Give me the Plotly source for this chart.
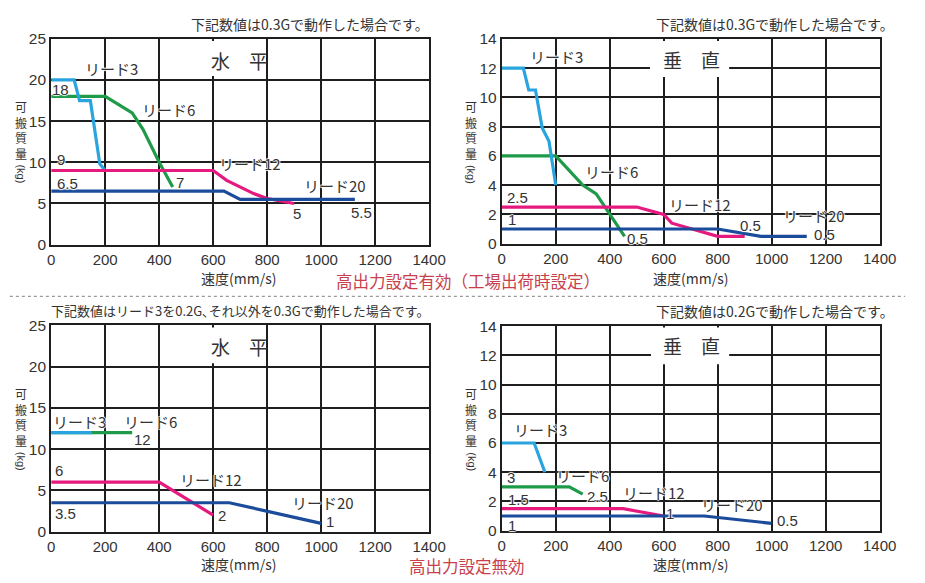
import plotly.graph_objects as go

# ---- data: speed (mm/s) vs. payload (kg) per lead ----
LEADS = ["リード3", "リード6", "リード12", "リード20"]
COLORS = ["#2aa4de", "#1f9a48", "#e6197f", "#1b4c9c"]

# high-output enabled, horizontal
hh_speed = [[0, 85, 105, 145, 180, 200],
            [0, 200, 300, 340, 400, 450],
            [0, 600, 650, 700, 750, 800, 900],
            [0, 640, 700, 1125]]
hh_load = [[20, 20, 17.5, 17.5, 9.8, 9],
           [18, 18, 16, 14, 10, 7],
           [9, 9, 7.8, 7.0, 6.2, 5.6, 5],
           [6.5, 6.5, 5.5, 5.5]]

# high-output enabled, vertical
hv_speed = [[0, 80, 100, 125, 150, 175, 200],
            [0, 200, 300, 350, 455],
            [0, 500, 600, 630, 800, 900],
            [0, 800, 960, 1130]]
hv_load = [[12, 12, 10.5, 10.5, 7.9, 7, 4],
           [6, 6, 4, 3.4, 0.5],
           [2.5, 2.5, 2, 1.4, 0.5, 0.5],
           [1, 1, 0.5, 0.5]]

# high-output disabled, horizontal
nh_speed = [[0, 150], [0, 300], [0, 400, 600], [0, 660, 1000]]
nh_load = [[12, 12], [12, 12], [6, 6, 2], [3.5, 3.5, 1]]

# high-output disabled, vertical
nv_speed = [[0, 120, 160], [0, 250, 300], [0, 450, 600], [0, 750, 1000]]
nv_load = [[6, 6, 4], [3, 3, 2.5], [1.5, 1.5, 1], [1, 1, 0.5]]

X_TICKS = [0, 200, 400, 600, 800, 1000, 1200, 1400]

W, H = 925, 583
JP = "Noto Sans CJK JP, sans-serif"
NUM = "Liberation Sans Narrow, Liberation Sans, Arial, sans-serif"
TXT = "#333333"
GRID = "#1e1e1e"
HALO = "1px 0px 1px #fff, -1px 0px 1px #fff, 0px 1px 1px #fff, 0px -1px 1px #fff"


def px_x(p):
    return p / W


def px_y(p):
    return 1 - p / H


# plot areas in pixels: (left, right, top, bottom)
panels = [
    dict(box=(48.3, 435, 30.7, 242.7), ymax=25, dy=5, speed=hh_speed, load=hh_load),
    dict(box=(509.3, 896, 30.7, 241.7), ymax=14, dy=2, speed=hv_speed, load=hv_load),
    dict(box=(48.3, 435, 326, 538.3), ymax=25, dy=5, speed=nh_speed, load=nh_load),
    dict(box=(509.3, 896, 326.7, 537.3), ymax=14, dy=2, speed=nv_speed, load=nv_load),
]

fig = go.Figure()
layout = dict(
    width=W, height=H, margin=dict(l=0, r=0, t=0, b=0),
    paper_bgcolor="white", plot_bgcolor="white", showlegend=False,
)

for i, p in enumerate(panels):
    n = "" if i == 0 else str(i + 1)
    l, r, t, b = p["box"]
    layout["xaxis" + n] = dict(
        domain=[px_x(l), px_x(r)], anchor="y" + n, range=[0, 1400],
        tickvals=X_TICKS, showgrid=True, gridcolor=GRID, gridwidth=1.6,
        showline=True, mirror=True, linecolor=GRID, linewidth=2,
        zeroline=False, ticks="", fixedrange=True,
        tickfont=dict(family=NUM, size=15, color=TXT),
    )
    layout["yaxis" + n] = dict(
        domain=[px_y(b), px_y(t)], anchor="x" + n, range=[0, p["ymax"]],
        dtick=p["dy"], showgrid=True, gridcolor=GRID, gridwidth=1.6,
        showline=True, mirror=True, linecolor=GRID, linewidth=2,
        zeroline=False, ticks="", fixedrange=True,
        tickfont=dict(family=NUM, size=15.5, color=TXT),
    )
    # draw order: lead 6 under lead 3 so the overlapping segment shows both
    for k in [1, 0, 2, 3]:
        fig.add_trace(go.Scatter(
            x=p["speed"][k], y=p["load"][k], mode="lines",
            line=dict(color=COLORS[k], width=3.2),
            xaxis="x" + n, yaxis="y" + n, hoverinfo="skip",
        ))

fig.update_layout(**layout)

# white gaps in the grid behind the panel titles
gap_boxes = [(206, 262, 33, 69), (661, 742, 33, 70), (206, 262, 328, 365), (662, 742, 328, 366)]
shapes = []
for x0, x1, y0, y1 in gap_boxes:
    shapes.append(dict(type="rect", xref="paper", yref="paper",
                       x0=px_x(x0), x1=px_x(x1), y0=px_y(y1), y1=px_y(y0),
                       fillcolor="white", line=dict(width=0), layer="above"))

# dotted separator between the two settings
shapes.append(dict(type="line", xref="paper", yref="paper",
                   x0=px_x(6), x1=px_x(922), y0=px_y(296), y1=px_y(296),
                   line=dict(color="#9a9a9a", width=1.2, dash="dot")))
fig.update_layout(shapes=shapes)

ann = []


def paper_text(text, x, y, size, color=TXT, family=JP, xanchor="center", angle=0):
    ann.append(dict(text=text, xref="paper", yref="paper", x=px_x(x), y=px_y(y),
                    xanchor=xanchor, yanchor="middle", showarrow=False, textangle=angle,
                    font=dict(family=family, size=size, color=color)))


def data_text(panel, text, x, y, size=15, family=JP):
    n = "" if panel == 0 else str(panel + 1)
    ann.append(dict(text=text, xref="x" + n, yref="y" + n, x=x, y=y,
                    xanchor="center", yanchor="middle", showarrow=False,
                    font=dict(family=family, size=size, color=TXT, shadow=HALO)))


# panel titles
paper_text("水　平", 241, 53, 19)
paper_text("垂　直", 703, 52, 19)
paper_text("水　平", 241, 348, 19)
paper_text("垂　直", 703, 347, 19)

# conditions above each panel
paper_text("下記数値は0.3Gで動作した場合です。", 437, 15, 14, xanchor="right")
paper_text("下記数値は0.3Gで動作した場合です。", 913, 15, 14, xanchor="right")
paper_text("下記数値はリード3を0.2G､それ以外を0.3Gで動作した場合です。", 437, 311, 13, xanchor="right")
paper_text("下記数値は0.2Gで動作した場合です。", 913, 311, 14, xanchor="right")

# setting captions
paper_text("高出力設定有効（工場出荷時設定）", 475, 280, 16.5, color="#c8404c")
paper_text("高出力設定無効", 474, 574, 16.5, color="#c8404c")

# axis titles
for cx, cy in [(240, 277), (702, 277), (240, 572), (702, 572)]:
    paper_text("速度(mm/s)", cx, cy, 14)

# vertical axis caption: stacked characters, unit turned sideways
for cx, top in [(17, 101), (478, 101), (17, 397), (478, 397)]:
    paper_text("可<br>搬<br>質<br>量", cx, top + 23.5, 12)
    paper_text("(kg)", cx, top + 15 * 4 + 9, 11, family=NUM, angle=90)

# curve labels and end values
data_text(0, LEADS[0], 224, 21.4)
data_text(0, LEADS[1], 434, 16.4)
data_text(0, LEADS[2], 736, 9.8)
data_text(0, LEADS[3], 1050, 7.2)
data_text(0, "18", 36, 18.9, family=NUM)
data_text(0, "9", 36, 10.3, family=NUM)
data_text(0, "6.5", 60, 7.4, family=NUM)
data_text(0, "7", 477, 7.6, family=NUM)
data_text(0, "5", 909, 3.8, family=NUM)
data_text(0, "5.5", 1150, 3.9, family=NUM)

data_text(1, LEADS[0], 202, 12.8)
data_text(1, LEADS[1], 407, 4.9)
data_text(1, LEADS[2], 733, 2.65)
data_text(1, LEADS[3], 1155, 1.9)
data_text(1, "2.5", 57, 3.15, family=NUM)
data_text(1, "1", 39, 1.65, family=NUM)
data_text(1, "0.5", 503, 0.35, family=NUM)
data_text(1, "0.5", 920, 1.25, family=NUM)
data_text(1, "0.5", 1197, 0.6, family=NUM)

data_text(2, LEADS[0], 103, 13.4)
data_text(2, LEADS[1], 368, 13.4)
data_text(2, "12", 338, 11.2, family=NUM)
data_text(2, "6", 30, 7.45, family=NUM)
data_text(2, LEADS[2], 591, 6.3)
data_text(2, "2", 634, 1.95, family=NUM)
data_text(2, "3.5", 52, 2.15, family=NUM)
data_text(2, LEADS[3], 1008, 3.55)
data_text(2, "1", 1032, 1.2, family=NUM)

data_text(3, LEADS[0], 145, 6.9)
data_text(3, "3", 36, 3.65, family=NUM)
data_text(3, LEADS[1], 298, 3.8)
data_text(3, "1.5", 63, 2.15, family=NUM)
data_text(3, "2.5", 353, 2.35, family=NUM)
data_text(3, LEADS[2], 564, 2.6)
data_text(3, "1", 624, 1.15, family=NUM)
data_text(3, "1", 39, 0.37, family=NUM)
data_text(3, LEADS[3], 853, 1.82)
data_text(3, "0.5", 1059, 0.66, family=NUM)

fig.update_layout(annotations=ann)
fig.write_html("out.html")
